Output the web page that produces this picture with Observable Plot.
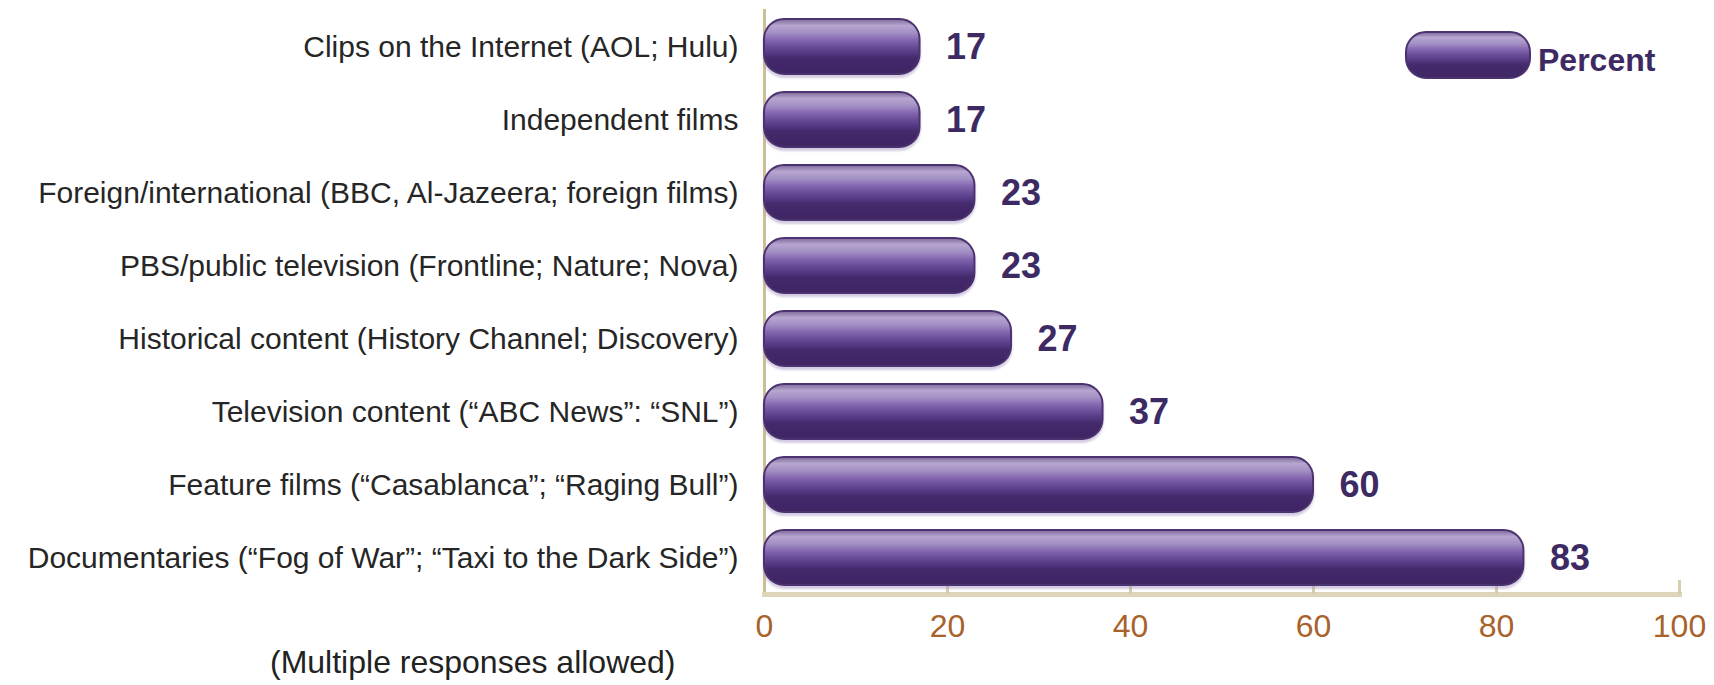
<!DOCTYPE html>
<html>
<head>
<meta charset="utf-8">
<script src="https://cdn.jsdelivr.net/npm/d3@7"></script>
<script src="https://cdn.jsdelivr.net/npm/@observablehq/plot@0.6"></script>
<style>
  html, body { margin: 0; padding: 0; background: #fff; }
  #wrap { position: relative; width: 1714px; height: 685px; overflow: hidden; }
  #legend { position: absolute; left: 1404px; top: 30px; display: flex; align-items: center; }
  #legend span { font-family: "Liberation Sans", Arial, sans-serif; font-size: 32px; font-weight: bold; color: #3d2a63; margin-left: 6px; position: relative; top: 5px; }
  #caption { position: absolute; left: 270px; top: 644px; font-family: "Liberation Sans", Arial, sans-serif; font-size: 32px; color: #222; }
</style>
</head>
<body>
<div id="wrap">
  <div id="chart"></div>
  <div id="legend">
    <svg width="128" height="50"><rect x="2" y="2" width="124" height="46" rx="20" fill="url(#pillL)" stroke="#4b3270" stroke-width="2"/>
      <defs><linearGradient id="pillL" x1="0" y1="0" x2="0" y2="1">
        <stop offset="0" stop-color="#7d6898"/><stop offset="0.12" stop-color="#b6a6d0"/><stop offset="0.25" stop-color="#a390c4"/>
        <stop offset="0.38" stop-color="#8466b0"/><stop offset="0.5" stop-color="#6a4d98"/><stop offset="0.62" stop-color="#533883"/>
        <stop offset="0.72" stop-color="#44296b"/><stop offset="1" stop-color="#3f2763"/></linearGradient></defs>
    </svg>
    <span>Percent</span>
  </div>
  <div id="caption">(Multiple responses allowed)</div>
</div>
<script>
const categories = [
  "Clips on the Internet (AOL; Hulu)",
  "Independent films",
  "Foreign/international (BBC, Al-Jazeera; foreign films)",
  "PBS/public television (Frontline; Nature; Nova)",
  "Historical content (History Channel; Discovery)",
  "Television content (\u201cABC News\u201d: \u201cSNL\u201d)",
  "Feature films (\u201cCasablanca\u201d; \u201cRaging Bull\u201d)",
  "Documentaries (\u201cFog of War\u201d; \u201cTaxi to the Dark Side\u201d)"
];
const values = [17, 17, 23, 23, 27, 37, 60, 83];
const xTicks = [0, 20, 40, 60, 80, 100];

const data = categories.map((c, i) => ({category: c, value: values[i]}));

const svg = Plot.plot({
  width: 1714,
  height: 685,
  marginLeft: 764,
  marginRight: 35,
  marginTop: 10,
  marginBottom: 91,
  style: {fontFamily: "'Liberation Sans', Arial, sans-serif", background: "transparent", overflow: "visible"},
  x: {domain: [0, 100], label: null},
  y: {domain: categories, paddingInner: 0.25, paddingOuter: 0.125, label: null},
  marks: [
    Plot.frame({anchor: "left", stroke: "#cdbf95", strokeWidth: 3, strokeOpacity: 1}),
    Plot.frame({anchor: "bottom", stroke: "#ddd6bb", strokeWidth: 5, strokeOpacity: 1}),
    Plot.axisX({ticks: xTicks.slice(1), tickSize: -14, text: null, label: null, stroke: "#d6ceae", strokeWidth: 3, strokeOpacity: 1}),
    Plot.axisX({ticks: xTicks, tickSize: 0, tickPadding: 20, fontSize: 32, fill: "#a8632d", label: null}),
    Plot.axisY({tickSize: 0, tickPadding: 26, fontSize: 30, fill: "#262626", label: null}),
    Plot.barX(data, {x: "value", y: "category", fill: "#4a2f72", stroke: "#4b3270", strokeWidth: 2, rx: 20}),
    Plot.text(data, {x: "value", y: "category", text: d => String(d.value), textAnchor: "start", dx: 26, fontSize: 36, fontWeight: "bold", fill: "#3d2a63"})
  ]
});

const ns = "http://www.w3.org/2000/svg";
const defs = document.createElementNS(ns, "defs");
defs.innerHTML = `<linearGradient id="pill" x1="0" y1="0" x2="0" y2="1">
  <stop offset="0" stop-color="#7d6898"/><stop offset="0.12" stop-color="#b6a6d0"/><stop offset="0.25" stop-color="#a390c4"/>
  <stop offset="0.38" stop-color="#8466b0"/><stop offset="0.5" stop-color="#6a4d98"/><stop offset="0.62" stop-color="#533883"/>
  <stop offset="0.72" stop-color="#44296b"/><stop offset="1" stop-color="#3f2763"/></linearGradient>
  <filter id="shadow" x="-5%" y="-20%" width="110%" height="150%"><feDropShadow dx="0" dy="3" stdDeviation="1.2" flood-color="#9d8cbc" flood-opacity="0.45"/></filter>`;
svg.insertBefore(defs, svg.firstChild);
svg.querySelectorAll('g[aria-label="bar"]').forEach(g => {
  g.setAttribute("fill", "url(#pill)");
  g.setAttribute("filter", "url(#shadow)");
});
document.getElementById("chart").appendChild(svg);
</script>
</body>
</html>
